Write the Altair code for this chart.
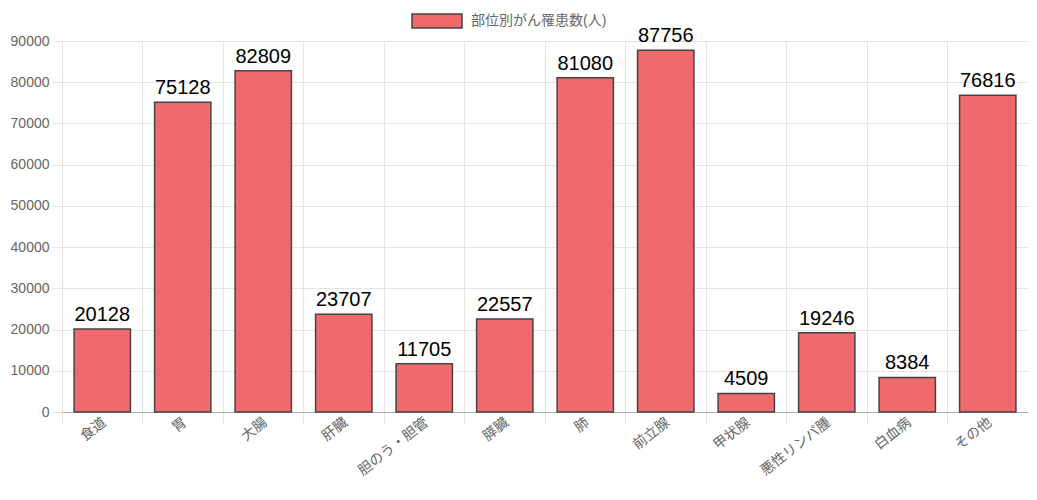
import altair as alt
import pandas as pd

categories = ["食道", "胃", "大腸", "肝臓", "胆のう・胆管", "膵臓", "肺", "前立腺", "甲状腺", "悪性リンパ腫", "白血病", "その他"]
values = [20128, 75128, 82809, 23707, 11705, 22557, 81080, 87756, 4509, 19246, 8384, 76816]
series_name = "部位別がん罹患数(人)"
y_ticks = [0, 10000, 20000, 30000, 40000, 50000, 60000, 70000, 80000, 90000]

df = pd.DataFrame({"部位": categories, "人数": values, "series": [series_name] * len(categories)})

FONT = "Liberation Sans, Noto Sans CJK JP"
W = 966
H = 371

x = alt.X("部位:N", sort=categories,
          scale=alt.Scale(paddingInner=0, paddingOuter=0),
          axis=alt.Axis(title=None, bandPosition=0,
                        labelAngle=-38, labelAlign="right", labelBaseline="top",
                        labelFontSize=14, labelColor="#666", labelFont=FONT,
                        labelPadding=-9, labelOffset=-2,
                        grid=True, gridColor="#e5e5e5", tickColor="#e5e5e5",
                        tickSize=12, domainColor="#aaa", domainWidth=1))
y = alt.Y("人数:Q",
          scale=alt.Scale(domain=[0, 90000], nice=False),
          axis=alt.Axis(title=None, values=y_ticks, format="d", labelFontSize=14, labelColor="#666",
                        labelFont=FONT, grid=True, gridColor="#e5e5e5",
                        tickColor="#e5e5e5", tickSize=10, labelPadding=3,
                        domain=False))

bars = alt.Chart(df).mark_bar(
    width=alt.RelativeBandSize(0.7), stroke="#444", strokeWidth=1.5
).encode(
    x=x, y=y,
    color=alt.Color("series:N", scale=alt.Scale(range=["#F0696D"]),
                    legend=alt.Legend(title=None, orient="none", legendX=349, legendY=-46,
                                      symbolType="M-1,-0.28H1V0.28H-1Z", symbolSize=2500,
                                      symbolStrokeColor="#444", symbolStrokeWidth=1.5,
                                      labelFontSize=14, labelColor="#666", labelFont=FONT,
                                      padding=0, symbolOffset=0, labelOffset=8)),
)

labels = alt.Chart(df).mark_text(
    baseline="bottom", dy=-4, fontSize=20, color="black", font=FONT
).encode(x=alt.X("部位:N", sort=categories, bandPosition=0.5), y="人数:Q", text="人数:Q")

chart = alt.layer(bars, labels).properties(
    width=W, height=H,
    autosize=alt.AutoSizeParams(type="none"),
    padding={"left": 54, "top": 33, "right": 0, "bottom": 80},
).configure_view(stroke=None)

chart.save("out.html", embed_options={"renderer": "svg", "actions": False})
